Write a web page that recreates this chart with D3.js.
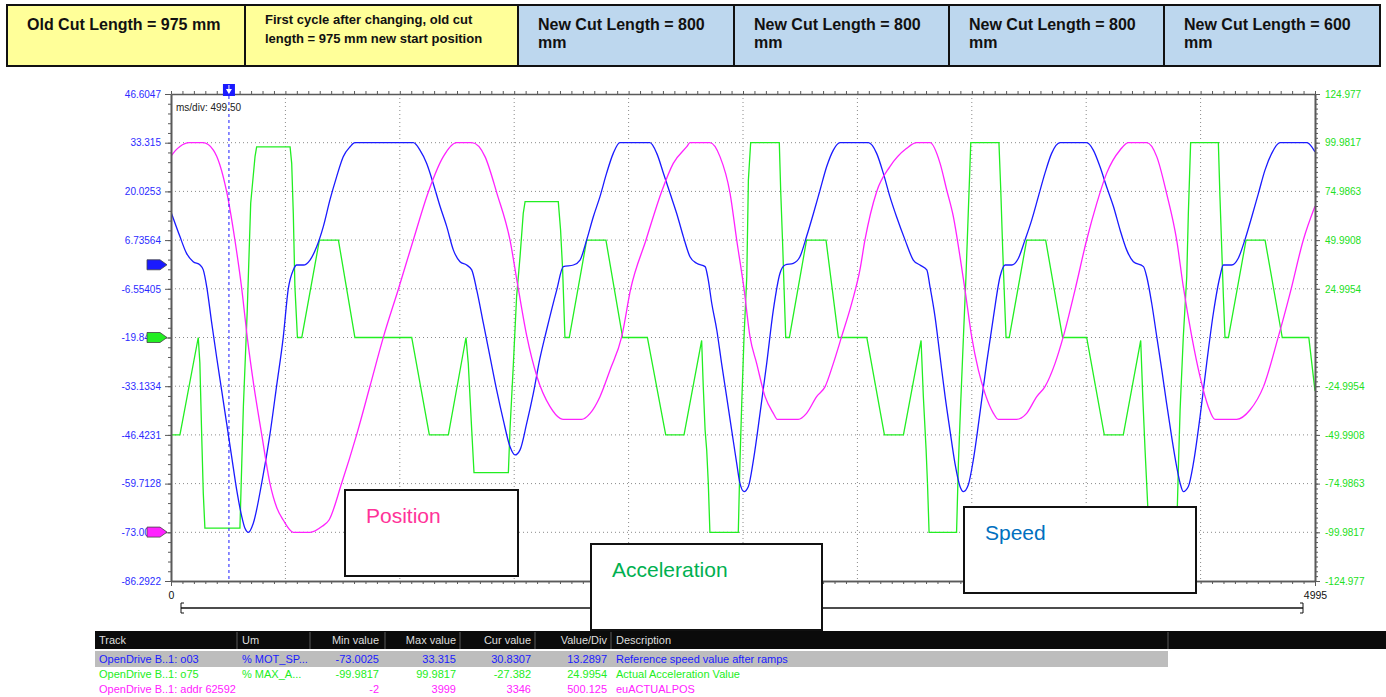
<!DOCTYPE html>
<html>
<head>
<meta charset="utf-8">
<title>Cut length change - speed / acceleration / position trace</title>
<script src="https://d3js.org/d3.v7.min.js"></script>
<style>
  body { margin: 0; background: #fff; }
  svg { display: block; font-family: "Liberation Sans", Arial, sans-serif; }
  .axis path, .axis line { stroke: #5a5a5a; }
  .grid line { stroke: #8a8a8a; stroke-dasharray: 1,3; }
</style>
</head>
<body>
<div id="chart"></div>
<script>
// ---- header boxes ----
var headerTexts = [
  ["Old Cut Length = 975 mm"],
  ["First cycle after changing, old cut", "length = 975 mm new start position"],
  ["New Cut Length = 800", "mm"],
  ["New Cut Length = 800", "mm"],
  ["New Cut Length = 800", "mm"],
  ["New Cut Length = 600", "mm"]
];
var headerKind = ["old", "old", "new", "new", "new", "new"];

// ---- axes ----
var timeDomain = [0, 4995];
var timeGrid = [499.5, 999, 1498.5, 1998, 2497.5, 2997, 3496.5, 3996, 4495.5];
var speedTicks = [46.6047, 33.315, 20.0253, 6.73564, -6.55405, -19.8438, -33.1334, -46.4231, -59.7128, -73.0025, -86.2922];
var speedTickLabels = ["46.6047", "33.315", "20.0253", "6.73564", "-6.55405", "-19.8438", "-33.1334", "-46.4231", "-59.7128", "-73.0025", "-86.2922"];
var accTicks = [124.977, 99.9817, 74.9863, 49.9908, 24.9954, -24.9954, -49.9908, -74.9863, -99.9817, -124.977];
var accTickLabels = ["124.977", "99.9817", "74.9863", "49.9908", "24.9954", "-24.9954", "-49.9908", "-74.9863", "-99.9817", "-124.977"];
var posDomain = [-502.125, 4499.125];
var cursorT = 253;

// ---- traces: [ms, value] ----
var speedPts = [[0,14.4],[39,7.7],[68,3.1],[97,0.85],[127,-0.06],[141,-1.4],[156,-6.0],[178,-16.0],[199,-25.1],[221,-34.2],[243,-43.3],[265,-52.4],[287,-61.5],[309,-68.7],[323,-71.9],[338,-73.0025],[359,-70.6],[396,-59.6],[432,-46.3],[461,-33.1],[490,-19.8],[512,-6.6],[534,-1.4],[549,-0.06],[578,-0.06],[607,1.3],[636,4.9],[665,10.4],[694,17.7],[723,24.0],[752,29.5],[782,32.2],[803,33.315],[1058,33.315],[1087,31.3],[1116,27.7],[1145,22.2],[1175,15.9],[1204,10.4],[1233,4.0],[1262,0.85],[1291,-0.06],[1313,-1.4],[1335,-6.9],[1364,-16.0],[1393,-25.1],[1422,-34.2],[1451,-42.4],[1480,-49.6],[1502,-51.9],[1524,-50.5],[1553,-43.3],[1582,-35.1],[1611,-25.5],[1640,-17.8],[1684,-6.9],[1713,-0.5],[1757,-0.06],[1786,1.3],[1815,6.8],[1844,13.1],[1873,18.6],[1902,25.0],[1931,30.4],[1960,33.315],[2091,33.315],[2121,30.4],[2150,25.0],[2179,19.5],[2208,14.0],[2237,7.7],[2266,2.2],[2295,0.4],[2332,-0.5],[2346,-4.2],[2361,-10.5],[2383,-17.8],[2404,-26.9],[2426,-36.0],[2448,-45.1],[2470,-54.2],[2484,-59.6],[2502,-61.9],[2521,-60.5],[2543,-53.3],[2572,-40.5],[2601,-26.9],[2630,-12.3],[2659,-2.3],[2681,-0.06],[2717,0.4],[2746,2.2],[2775,7.7],[2805,14.0],[2834,20.4],[2863,26.8],[2892,31.3],[2921,33.315],[3045,33.315],[3081,30.4],[3110,25.0],[3139,18.6],[3168,13.1],[3205,6.8],[3241,1.3],[3270,-0.06],[3300,-1.4],[3314,-6.0],[3336,-14.2],[3358,-25.1],[3380,-36.0],[3401,-45.1],[3423,-54.2],[3445,-60.5],[3460,-61.9],[3481,-60.1],[3503,-53.3],[3532,-40.5],[3561,-26.9],[3591,-14.2],[3620,-3.2],[3642,-0.06],[3671,-0.06],[3700,1.8],[3729,6.8],[3758,12.2],[3787,18.6],[3816,25.0],[3845,30.4],[3882,33.315],[3998,33.315],[4027,31.3],[4056,26.8],[4085,21.3],[4115,15.9],[4144,9.5],[4173,4.0],[4202,0.85],[4246,-0.5],[4260,-3.2],[4282,-10.5],[4304,-19.6],[4326,-28.7],[4347,-37.8],[4369,-46.9],[4391,-55.1],[4406,-59.6],[4420,-61.9],[4442,-60.5],[4464,-54.2],[4493,-41.5],[4522,-26.9],[4551,-13.3],[4580,-3.2],[4595,-0.06],[4631,-0.06],[4660,1.8],[4689,6.8],[4719,13.1],[4748,19.5],[4777,25.9],[4806,30.4],[4842,33.315],[4959,33.315],[4981,32.2],[4995,30.8307]];

var accPts = [[0,-50],[39,-50],[119,0],[126,-13],[134,-50],[141,-80],[148,-97.8],[301,-97.8],[309,-64.6],[316,-35.5],[333,14.1],[348,68.9],[367,93],[374,97.8],[520,97.8],[527,89.4],[534,63.7],[541,26.1],[552,0],[571,0],[648,50],[731,50],[803,0],[1051,0],[1128,-50],[1211,-50],[1288,0],[1298,-13.3],[1313,-47.5],[1323,-69.4],[1473,-69.4],[1480,-47.5],[1495,-13.3],[1509,21],[1524,41.5],[1538,63.7],[1546,69.7],[1691,69.7],[1701,55.2],[1710,34.6],[1720,0],[1739,0],[1815,50],[1899,50],[1972,0],[2080,0],[2160,-50],[2240,-50],[2317,-1.5],[2324,-25.2],[2332,-47.5],[2339,-57.7],[2346,-74.8],[2353,-99.98],[2477,-99.98],[2484,-64.6],[2492,-33.8],[2502,0.4],[2514,31.2],[2521,80.8],[2531,99.98],[2656,99.98],[2662,75.7],[2671,46.6],[2678,21],[2684,0],[2700,0],[2775,50],[2860,50],[2914,0],[3038,0],[3115,-50],[3198,-50],[3275,-1.5],[3285,-30.4],[3297,-57.7],[3303,-74.8],[3310,-99.98],[3430,-99.98],[3438,-64.6],[3448,-33.8],[3460,0.4],[3471,31.2],[3481,63.7],[3492,99.98],[3615,99.98],[3623,75.7],[3631,46.6],[3639,21],[3646,0],[3660,0],[3736,50],[3819,50],[3893,0],[3998,0],[4075,-50],[4158,-50],[4234,-1.5],[4243,-30.4],[4253,-57.7],[4260,-74.8],[4270,-99.98],[4391,-99.98],[4399,-64.6],[4406,-37.2],[4420,0.4],[4435,31.2],[4442,63.7],[4452,99.98],[4573,99.98],[4580,72.3],[4588,44.9],[4595,21],[4602,0],[4617,0],[4694,50],[4777,50],[4852,0],[4968,0],[4995,-27.382]];

var posPts = [[0,3860],[20,3920],[39,3960],[80,3999],[140,3999],[185,3924],[243,3496],[279,3000],[309,2497],[333,2000],[362,1500],[396,1004],[432,501],[462,250],[490,124],[534,-2],[607,-2],[660,60],[690,124],[745,501],[811,1004],[869,1500],[927,2000],[993,2497],[1058,3000],[1124,3496],[1189,3856],[1247,3999],[1314,3999],[1371,3856],[1423,3479],[1480,3000],[1515,2520],[1554,2007],[1598,1596],[1655,1288],[1699,1168],[1713,1158],[1793,1158],[1830,1220],[1873,1391],[1917,1665],[1968,2007],[2007,2497],[2074,3000],[2142,3496],[2193,3787],[2252,3958],[2266,3999],[2353,3999],[2397,3856],[2441,3479],[2470,3000],[2502,2497],[2528,2007],[2557,1733],[2594,1391],[2630,1220],[2647,1158],[2739,1158],[2775,1220],[2819,1391],[2856,1494],[2892,1733],[2928,2007],[2972,2349],[3008,2692],[3030,3000],[3081,3496],[3139,3753],[3212,3941],[3256,3999],[3314,3999],[3358,3787],[3387,3513],[3416,3239],[3445,2829],[3467,2486],[3496,2007],[3525,1665],[3554,1425],[3591,1220],[3612,1158],[3692,1158],[3736,1220],[3780,1391],[3816,1494],[3860,1733],[3896,2007],[3947,2486],[3998,3000],[4042,3376],[4085,3684],[4144,3924],[4180,3999],[4260,3999],[4304,3856],[4347,3479],[4391,3000],[4420,2520],[4457,2007],[4493,1596],[4529,1288],[4558,1158],[4653,1158],[4711,1254],[4770,1494],[4835,2007],[4886,2452],[4944,3000],[4995,3346]];

// ---- track table ----
var tableHead = ["Track", "Um", "Min value", "Max value", "Cur value", "Value/Div", "Description"];
var tableRows = [
  ["OpenDrive B..1: o03", "% MOT_SP...", "-73.0025", "33.315", "30.8307", "13.2897", "Reference speed value after ramps"],
  ["OpenDrive B..1: o75", "% MAX_A...", "-99.9817", "99.9817", "-27.382", "24.9954", "Actual Acceleration Value"],
  ["OpenDrive B..1: addr 62592", "", "-2", "3999", "3346", "500.125", "euACTUALPOS"]
];
var labelBoxes = ["Position", "Acceleration", "Speed"];

var W = 1386, H = 697;
var plot = {left: 171, right: 1315, top: 94, bottom: 581};
var blue = "#1a1aff", green = "#22ee22", magenta = "#ff22ff";

var svg = d3.select("#chart").append("svg")
  .attr("width", W).attr("height", H);

// header boxes
var boxEdges = [7, 245, 518, 734, 949, 1164, 1380];
headerTexts.forEach(function(lines, i) {
  var x0 = boxEdges[i], x1 = boxEdges[i + 1];
  svg.append("rect")
    .attr("x", x0).attr("y", 5).attr("width", x1 - x0).attr("height", 61)
    .attr("fill", headerKind[i] == "old" ? "#ffff99" : "#bdd7ee")
    .attr("stroke", "#111").attr("stroke-width", 2);
  var small = lines[0].length > 25;
  var t = svg.append("text")
    .attr("font-weight", "bold")
    .attr("font-size", small ? 13 : 16)
    .attr("fill", "#111");
  lines.forEach(function(l, j) {
    t.append("tspan")
      .attr("x", x0 + 20)
      .attr("y", small ? 24 + j * 19 : 30 + j * 18)
      .text(l);
  });
});

// scales
var x = d3.scaleLinear().domain(timeDomain).range([plot.left, plot.right]);
var ySpeed = d3.scaleLinear().domain([speedTicks[10], speedTicks[0]]).range([plot.bottom, plot.top]);
var yAcc = d3.scaleLinear().domain([accTicks[9], accTicks[0]]).range([plot.bottom, plot.top]);
var yPos = d3.scaleLinear().domain(posDomain).range([plot.bottom, plot.top]);

// grid
var grid = svg.append("g").attr("class", "grid");
grid.selectAll(".h").data(speedTicks.slice(1, 10)).enter().append("line")
  .attr("x1", plot.left).attr("x2", plot.right)
  .attr("y1", function(d) { return ySpeed(d); })
  .attr("y2", function(d) { return ySpeed(d); });
grid.selectAll(".v").data(timeGrid).enter().append("line")
  .attr("y1", plot.top).attr("y2", plot.bottom)
  .attr("x1", function(d) { return x(d); })
  .attr("x2", function(d) { return x(d); });

// traces
svg.append("clipPath").attr("id", "clip").append("rect")
  .attr("x", plot.left).attr("y", plot.top)
  .attr("width", plot.right - plot.left).attr("height", plot.bottom - plot.top);
var traces = svg.append("g").attr("clip-path", "url(#clip)");

traces.append("path").datum(accPts)
  .attr("fill", "none").attr("stroke", green).attr("stroke-width", 1.3)
  .attr("d", d3.line().x(function(d) { return x(d[0]); }).y(function(d) { return yAcc(d[1]); }));
traces.append("path").datum(speedPts)
  .attr("fill", "none").attr("stroke", blue).attr("stroke-width", 1.3)
  .attr("d", d3.line().curve(d3.curveMonotoneX).x(function(d) { return x(d[0]); }).y(function(d) { return ySpeed(d[1]); }));
traces.append("path").datum(posPts)
  .attr("fill", "none").attr("stroke", magenta).attr("stroke-width", 1.3)
  .attr("d", d3.line().curve(d3.curveMonotoneX).x(function(d) { return x(d[0]); }).y(function(d) { return yPos(d[1]); }));

// axes
var spStep = (speedTicks[0] - speedTicks[1]) / 5;
var spMinor = d3.range(0, 51).map(function(i) { return speedTicks[10] + i * spStep; });
var acStep = (accTicks[0] - accTicks[1]) / 10;
var acMinor = d3.range(0, 101).map(function(i) { return accTicks[9] + i * acStep; });
var tMinor = d3.range(0, 101).map(function(i) { return i * 49.95; });

svg.append("g").attr("class", "axis")
  .attr("transform", "translate(" + plot.left + ",0)")
  .call(d3.axisLeft(ySpeed).tickValues(spMinor).tickFormat("").tickSize(3).tickSizeOuter(0));
svg.append("g").attr("class", "axis")
  .attr("transform", "translate(" + plot.left + ",0)")
  .call(d3.axisLeft(ySpeed).tickValues(speedTicks).tickSize(6).tickPadding(4).tickSizeOuter(0)
    .tickFormat(function(d, i) { return speedTickLabels[i]; }))
  .call(function(g) {
    g.selectAll("text").attr("fill", "#2b2bff").attr("font-size", 10).attr("font-family", "Liberation Sans, Arial");
  });

svg.append("g").attr("class", "axis")
  .attr("transform", "translate(" + plot.right + ",0)")
  .call(d3.axisRight(yAcc).tickValues(acMinor).tickFormat("").tickSize(3).tickSizeOuter(0));
svg.append("g").attr("class", "axis")
  .attr("transform", "translate(" + plot.right + ",0)")
  .call(d3.axisRight(yAcc).tickValues(accTicks).tickSize(5).tickPadding(5).tickSizeOuter(0)
    .tickFormat(function(d, i) { return accTickLabels[i]; }))
  .call(function(g) {
    g.selectAll("text").attr("fill", "#22e022").attr("font-size", 10).attr("font-family", "Liberation Sans, Arial");
  });

svg.append("g").attr("class", "axis")
  .attr("transform", "translate(0," + plot.top + ")")
  .call(d3.axisTop(x).tickValues(tMinor).tickFormat("").tickSize(3).tickSizeOuter(0));
svg.append("g").attr("class", "axis")
  .attr("transform", "translate(0," + plot.bottom + ")")
  .call(d3.axisBottom(x).tickValues(tMinor).tickFormat("").tickSize(3).tickSizeOuter(0));
svg.append("g").attr("class", "axis")
  .attr("transform", "translate(0," + plot.bottom + ")")
  .call(d3.axisBottom(x).tickValues(timeDomain).tickFormat(d3.format("d")).tickSize(5).tickPadding(6).tickSizeOuter(0))
  .call(function(g) {
    g.selectAll("text").attr("fill", "#111").attr("font-size", 10.5).attr("font-family", "Liberation Sans, Arial");
  });
svg.selectAll(".axis path.domain").attr("stroke", "#6a6a6a").attr("stroke-width", 1.6);

// range bar under the time axis
var bar = svg.append("g").attr("stroke", "#111").attr("fill", "none");
bar.append("line").attr("x1", 181).attr("x2", 1303).attr("y1", 608).attr("y2", 608).attr("stroke-width", 1.4);
bar.append("path").attr("d", "M184,603 H181 V613 H184");
bar.append("path").attr("d", "M1300,603 H1303 V613 H1300");

// zero markers on the left
var markers = [[ySpeed(0), blue], [yAcc(0), green], [yPos(0), magenta]];
markers.forEach(function(m) {
  var y = m[0];
  svg.append("path")
    .attr("d", "M147," + (y - 5) + " H160 L167," + y + " L160," + (y + 5) + " H147 Z")
    .attr("fill", m[1]).attr("stroke", "#444").attr("stroke-width", 0.8);
});

// cursor
var cx = x(cursorT);
svg.append("line").attr("x1", cx).attr("x2", cx).attr("y1", 96).attr("y2", plot.bottom)
  .attr("stroke", blue).attr("stroke-dasharray", "3,3").attr("stroke-width", 1);
svg.append("rect").attr("x", cx - 6).attr("y", 84).attr("width", 12).attr("height", 12).attr("fill", blue);
svg.append("path").attr("d", "M" + (cx - 3) + ",89 H" + (cx + 3) + " L" + cx + ",94 Z").attr("fill", "#fff");
svg.append("line").attr("x1", cx).attr("x2", cx).attr("y1", 85).attr("y2", 89).attr("stroke", "#fff");

svg.append("text").attr("x", 176).attr("y", 111)
  .attr("font-size", 10).attr("fill", "#222").text("ms/div: 499.50");

// label boxes
var boxSpec = [
  {x: 345, y: 490, w: 173, h: 86, c: "#ff3399"},
  {x: 591, y: 544, w: 231, h: 86, c: "#00b050"},
  {x: 964, y: 507, w: 232, h: 86, c: "#0070c0"}
];
labelBoxes.forEach(function(name, i) {
  var b = boxSpec[i];
  svg.append("rect").attr("x", b.x).attr("y", b.y).attr("width", b.w).attr("height", b.h)
    .attr("fill", "#fff").attr("stroke", "#111").attr("stroke-width", 2);
  svg.append("text").attr("x", b.x + 21).attr("y", b.y + 33)
    .attr("font-size", 21).attr("fill", b.c).text(name);
});

// track table
var tbl = svg.append("g").attr("font-size", 11);
tbl.append("rect").attr("x", 95).attr("y", 631).attr("width", W - 95).attr("height", 18).attr("fill", "#0b0b0b");
[237, 310, 385, 460, 535, 611, 1168].forEach(function(sx) {
  tbl.append("line").attr("x1", sx).attr("x2", sx).attr("y1", 632).attr("y2", 649).attr("stroke", "#5a5a5a");
});
tbl.append("rect").attr("x", 95).attr("y", 651).attr("width", 1073).attr("height", 16).attr("fill", "#bdbdbd");
var colX = [99, 242, 379, 456, 531, 607, 616];
var colAnchor = ["start", "start", "end", "end", "end", "end", "start"];
var rowColor = [blue, green, magenta];
tableHead.forEach(function(h, j) {
  tbl.append("text").attr("x", colX[j]).attr("y", 644).attr("text-anchor", colAnchor[j])
    .attr("fill", "#dedede").text(h);
});
tableRows.forEach(function(r, i) {
  r.forEach(function(v, j) {
    tbl.append("text").attr("x", colX[j]).attr("y", 663 + i * 15).attr("text-anchor", colAnchor[j])
      .attr("fill", rowColor[i]).text(v);
  });
});
</script>
</body>
</html>
